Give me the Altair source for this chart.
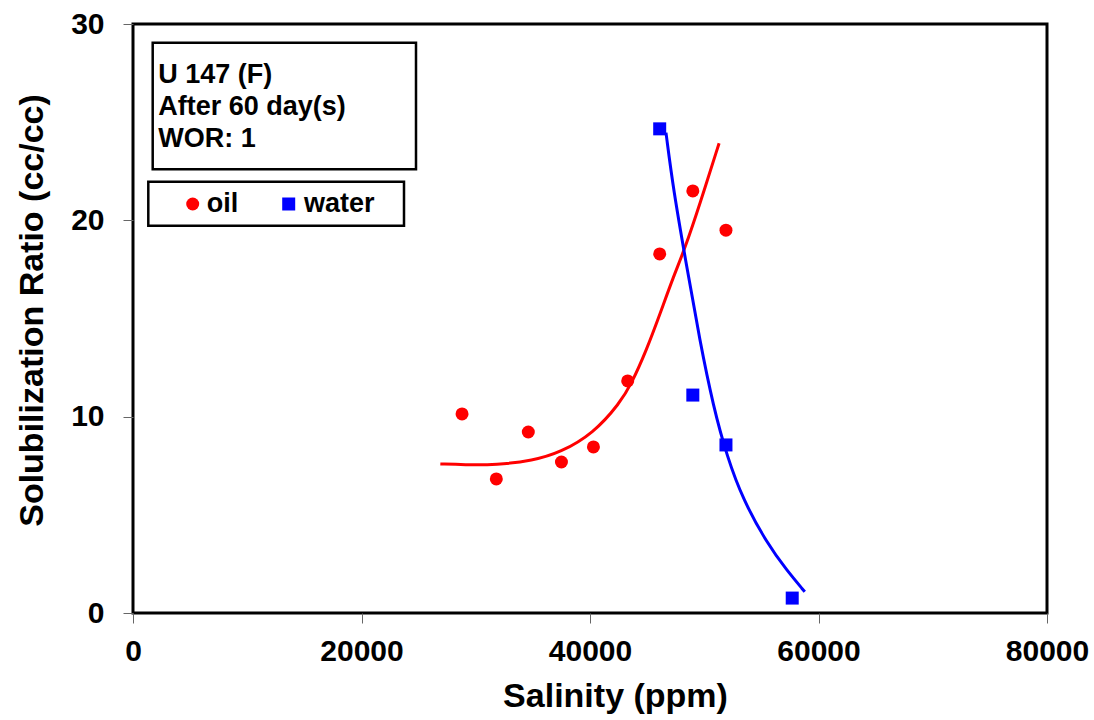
import altair as alt
import pandas as pd

# Measured data
oil_x = [28800, 31800, 34600, 37500, 40300, 43300, 46100, 49000, 51900]
oil_y = [10.14, 6.83, 9.22, 7.69, 8.46, 11.82, 18.29, 21.5, 19.5]
water_x = [46100, 49000, 51900, 57700]
water_y = [24.66, 11.1, 8.56, 0.76]

# Fitted curves
oil_fit_x = [26900, 29000, 31800, 35000, 37400, 40300, 42600, 43650, 44950, 46150, 47300, 48300, 49600, 51300]
oil_fit_y = [7.59, 7.55, 7.54, 7.76, 8.17, 9.15, 10.68, 11.70, 13.40, 15.27, 17.13, 18.55, 20.8, 23.93]
water_fit_x = [46650, 47300, 48450, 49600, 50800, 52000, 53400, 55500, 57200, 58800]
water_fit_y = [24.47, 21.55, 17.7, 13.9, 10.5, 7.96, 5.76, 3.55, 2.19, 1.08]

x_ticks = [0, 20000, 40000, 60000, 80000]
y_ticks = [0, 10, 20, 30]

info_lines = ["U 147 (F)", "After 60 day(s)", "WOR: 1"]
legend_labels = ["oil", "water"]

FONT = "Liberation Sans"

oil_df = pd.DataFrame({"x": oil_x, "y": oil_y})
water_df = pd.DataFrame({"x": water_x, "y": water_y})
oil_fit_df = pd.DataFrame({"x": oil_fit_x, "y": oil_fit_y})
water_fit_df = pd.DataFrame({"x": water_fit_x, "y": water_fit_y})

xs = alt.Scale(domain=[0, 80000], nice=False, zero=True)
ys = alt.Scale(domain=[0, 30], nice=False, zero=True)

x_axis = alt.Axis(values=x_ticks, format="d", title="Salinity (ppm)",
                  titleX=482, titleY=93, titleBaseline="alphabetic", titleAlign="center",
                  labelPadding=13, labelFlush=False)
y_axis = alt.Axis(values=y_ticks, format="d", title="Solubilization Ratio (cc/cc)",
                  titleX=-91, titleY=286, titleAngle=270, titleBaseline="alphabetic",
                  titleAlign="center", labelPadding=19, labelFlush=False)

X = alt.X("x:Q", scale=xs, axis=x_axis)
Y = alt.Y("y:Q", scale=ys, axis=y_axis)

oil_line = alt.Chart(oil_fit_df).mark_line(color="#ff0000", strokeWidth=3, interpolate="basis").encode(x=X, y=Y)
water_line = alt.Chart(water_fit_df).mark_line(color="#0000ff", strokeWidth=3, interpolate="basis").encode(x=X, y=Y)
oil_pts = alt.Chart(oil_df).mark_point(shape="circle", filled=True, size=169, color="#ff0000", opacity=1).encode(x=X, y=Y)
water_pts = alt.Chart(water_df).mark_point(shape="square", filled=True, size=169, color="#0000ff", opacity=1).encode(x=X, y=Y)

# Info box
info_box = alt.Chart(pd.DataFrame({"a": [0]})).mark_rect(fill="white", stroke="black", strokeWidth=2.5).encode(
    x=alt.value(19.7), x2=alt.value(283), y=alt.value(18.7), y2=alt.value(145.3))
info_df = pd.DataFrame({"t": info_lines, "yy": [59.3, 91, 122.7]})
info_text = alt.Chart(info_df).mark_text(align="left", baseline="alphabetic", font=FONT, fontWeight="bold",
                                         fontSize=27, color="black").encode(
    x=alt.value(25.3), y=alt.Y("yy:Q", scale=None, axis=None), text="t:N")

# Legend box
leg_box = alt.Chart(pd.DataFrame({"a": [0]})).mark_rect(fill="white", stroke="black", strokeWidth=2.5).encode(
    x=alt.value(15.3), x2=alt.value(271), y=alt.value(157.7), y2=alt.value(201.7))
leg_circle = alt.Chart(pd.DataFrame({"a": [0]})).mark_point(shape="circle", filled=True, size=169, color="#ff0000", opacity=1).encode(
    x=alt.value(59.7), y=alt.value(180))
leg_square = alt.Chart(pd.DataFrame({"a": [0]})).mark_point(shape="square", filled=True, size=169, color="#0000ff", opacity=1).encode(
    x=alt.value(155.7), y=alt.value(180))
leg_df = pd.DataFrame({"t": legend_labels, "xx": [73.7, 171]})
leg_text = alt.Chart(leg_df).mark_text(align="left", baseline="alphabetic", font=FONT, fontWeight="bold",
                                       fontSize=27, color="black").encode(
    x=alt.X("xx:Q", scale=None, axis=None), y=alt.value(188.3), text="t:N")

chart = alt.layer(
    oil_line, water_line, oil_pts, water_pts,
    info_box, info_text, leg_box, leg_circle, leg_square, leg_text
).properties(
    width=914, height=589,
    autosize=alt.AutoSizeParams(type="none"),
    padding={"left": 133, "top": 24, "right": 47, "bottom": 107},
    background="white",
).configure_view(
    stroke="black", strokeWidth=3
).configure_axis(
    grid=False, domain=False, ticks=True, tickSize=10, tickColor="#666666", tickWidth=1,
    labelFont=FONT, labelFontWeight="bold", labelFontSize=30, labelColor="black",
    titleFont=FONT, titleFontWeight="bold", titleFontSize=34, titleColor="black",
)

chart.save("out.html", embed_options={"renderer": "svg", "actions": False})
